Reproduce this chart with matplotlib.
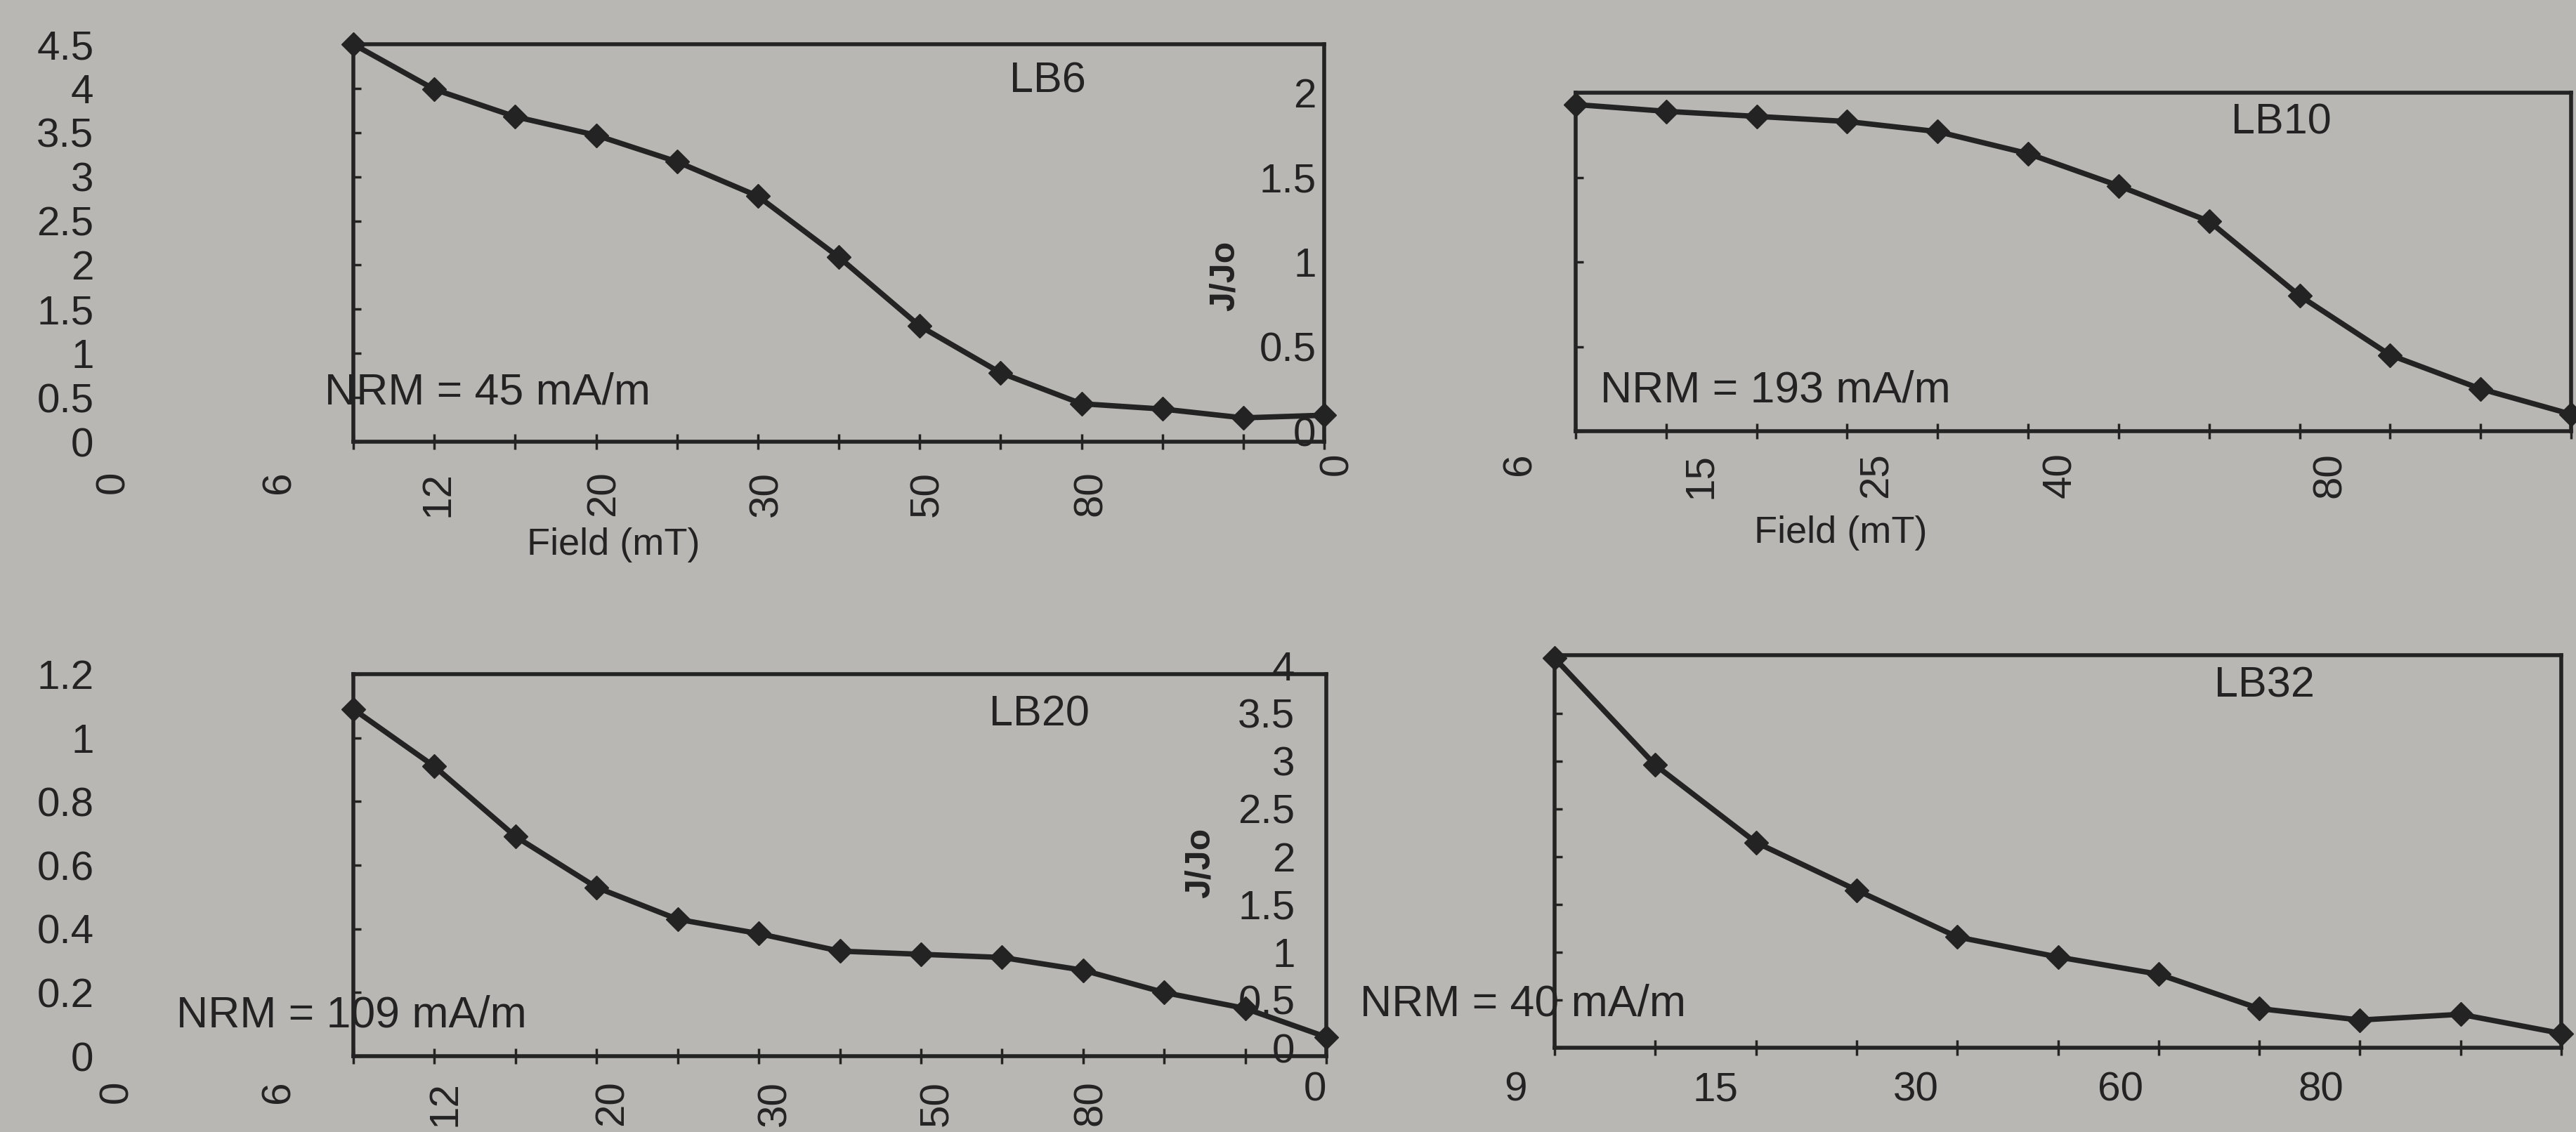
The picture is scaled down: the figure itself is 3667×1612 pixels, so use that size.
"""Four AF demagnetisation curves (J/Jo vs field) as they appear on a photographed page,
with the overlapping axis labels of the neighbouring charts."""

import matplotlib

matplotlib.use("Agg")
import matplotlib.pyplot as plt

plt.rcParams["font.family"] = ["Liberation Sans", "DejaVu Sans"]

W, H = 3667, 1612
PAPER = "#b9b7b4"
INK = "#232323"

# ---- data ------------------------------------------------------------------
LB6_J = [4.50, 3.99, 3.68, 3.47, 3.17, 2.78, 2.09, 1.31, 0.78, 0.43, 0.37, 0.27, 0.30]
LB10_J = [1.93, 1.89, 1.86, 1.83, 1.77, 1.64, 1.45, 1.24, 0.80, 0.45, 0.25, 0.10]
LB20_J = [1.09, 0.91, 0.69, 0.53, 0.43, 0.385, 0.33, 0.32, 0.31, 0.27, 0.20, 0.15, 0.06]
LB32_J = [4.08, 2.96, 2.15, 1.65, 1.16, 0.95, 0.77, 0.41, 0.29, 0.35, 0.15]

LB6_FIELDS = ["0", "6", "12", "20", "30", "50", "80"]
LB10_FIELDS = ["0", "6", "15", "25", "40", "80"]
LB20_FIELDS = ["0", "6", "12", "20", "30", "50", "80"]
LB32_FIELDS = ["0", "9", "15", "30", "60", "80"]

LB6_YTICKS = [0, 0.5, 1, 1.5, 2, 2.5, 3, 3.5, 4, 4.5]
LB10_YTICKS = [0, 0.5, 1, 1.5, 2]
LB20_YTICKS = [0, 0.2, 0.4, 0.6, 0.8, 1, 1.2]
LB32_YTICKS = [0, 0.5, 1, 1.5, 2, 2.5, 3, 3.5, 4]

# ---- layout (pixel boxes of the frames, label placements) -------------------
LB6_BOX = (503, 63, 1885, 629)      # left, top, right, bottom
LB10_BOX = (2243, 132, 3660, 614)
LB20_BOX = (503, 960, 1888, 1504)
LB32_BOX = (2213, 933, 3646, 1492)

LB6_LABEL_AT = [-2.97, -0.92, 1.05, 3.1, 5.11, 7.1, 9.12]
LB10_LABEL_AT = [-2.64, -0.62, 1.38, 3.33, 5.36, 8.34]
LB20_LABEL_AT = [-2.92, -0.92, 1.13, 3.19, 5.2, 7.2, 9.1]
LB32_LABEL_AT = [-2.38, -0.39, 1.6, 3.59, 5.62, 7.61]


def fmt(v):
    return f"{v:g}"


def panel(fig, box, values, ylim, yticks, fields, label_at, rot, lab_pad,
          name, name_xy, nrm, nrm_xy, field_xy=None, jjo_xy=None):
    L, T, R, B = box
    ax = fig.add_axes([L / W, 1 - B / H, (R - L) / W, (B - T) / H])
    ax.patch.set_visible(False)
    n = len(values)
    x = list(range(n))
    ax.plot(x, values, color=INK, lw=5.5, marker="D", ms=17, mec=INK, mfc=INK,
            clip_on=False, zorder=3)
    ax.set_xlim(0, n - 1)
    ax.set_ylim(*ylim)
    ax.set_xticks(x)
    ax.tick_params(axis="x", direction="inout", length=16, width=2.5, color=INK,
                   labelbottom=False)
    ax.set_yticks(yticks, [fmt(v) for v in yticks])
    ax.tick_params(axis="y", direction="in", length=8, width=2.5, color=INK,
                   pad=266, labelsize=42, labelcolor=INK)
    for sp in ax.spines.values():
        sp.set_linewidth(4)
        sp.set_color(INK)

    # field labels sit on a wider, invisible axis sharing the same index scale
    d = (R - L) / (n - 1)
    gl, gr = L - 4 * d, R + d
    gx = fig.add_axes([gl / W, 1 - B / H, (gr - gl) / W, (B - T) / H])
    gx.patch.set_visible(False)
    for sp in gx.spines.values():
        sp.set_visible(False)
    gx.set_xlim(-4, n)
    gx.set_yticks([])
    gx.set_xticks(label_at, fields, rotation=rot)
    gx.tick_params(axis="x", length=0, pad=lab_pad, labelsize=42, labelcolor=INK)

    ax.text(*name_xy, name, transform=ax.transAxes, ha="center", va="center",
            fontsize=44, color=INK)
    ax.text(*nrm_xy, nrm, transform=ax.transAxes, ha="left", va="baseline",
            fontsize=45, color=INK, clip_on=False)
    if field_xy is not None:
        ax.set_xlabel("Field (mT)", fontsize=39, color=INK)
        ax.xaxis.set_label_coords(*field_xy)
    if jjo_xy is not None:
        ax.text(*jjo_xy, "J/Jo", transform=ax.transAxes, rotation=90,
                ha="center", va="center", fontsize=36, fontweight="bold", color=INK)
    return ax


fig = plt.figure(figsize=(W / 100, H / 100), dpi=100, facecolor=PAPER)

panel(fig, LB6_BOX, LB6_J, (0, 4.5), LB6_YTICKS, LB6_FIELDS, LB6_LABEL_AT, 90, 30,
      "LB6", (0.715, 0.907), "NRM = 45 mA/m", (-0.030, 0.095),
      field_xy=(0.268, -0.215))
panel(fig, LB10_BOX, LB10_J, (0, 2.0), LB10_YTICKS, LB10_FIELDS, LB10_LABEL_AT, 90, 22,
      "LB10", (0.709, 0.911), "NRM = 193 mA/m", (0.025, 0.087),
      field_xy=(0.266, -0.249), jjo_xy=(-0.352, 0.459))
panel(fig, LB20_BOX, LB20_J, (0, 1.2), LB20_YTICKS, LB20_FIELDS, LB20_LABEL_AT, 90, 25,
      "LB20", (0.705, 0.894), "NRM = 109 mA/m", (-0.182, 0.077))
panel(fig, LB32_BOX, LB32_J, (0, 4.11), LB32_YTICKS, LB32_FIELDS, LB32_LABEL_AT, 0, 24,
      "LB32", (0.705, 0.921), "NRM = 40 mA/m", (-0.193, 0.082),
      jjo_xy=(-0.352, 0.47))

fig.savefig("out.png", dpi=100, facecolor=PAPER)
